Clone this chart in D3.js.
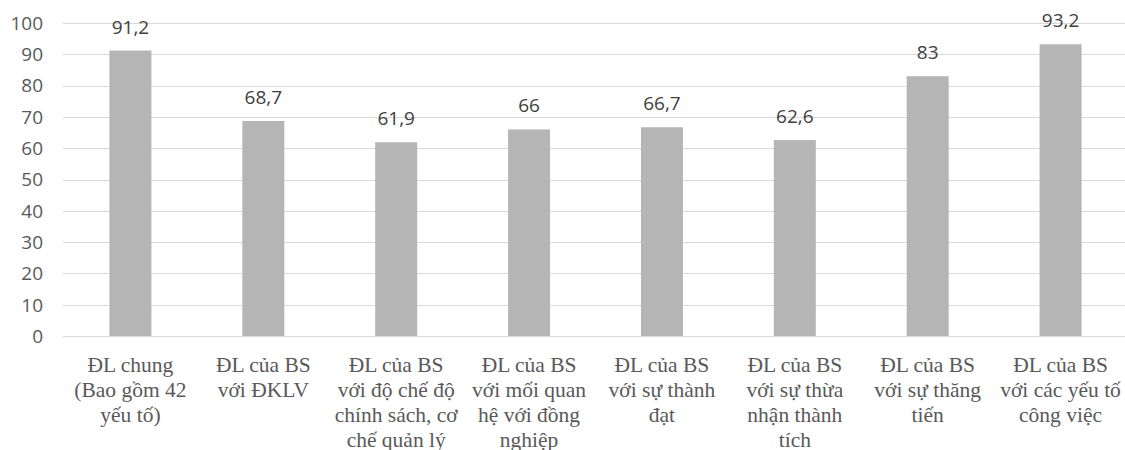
<!DOCTYPE html>
<html>
<head>
<meta charset="utf-8">
<script src="https://cdn.jsdelivr.net/npm/d3@7"></script>
<style>
  html, body { margin: 0; padding: 0; background: #fff; }
  svg { display: block; }
</style>
</head>
<body>
<svg id="chart" width="1125" height="450"></svg>
<script>
// Category labels, one array of lines per bar
const categories = [
  ["ĐL chung", "(Bao gồm 42", "yếu tố)"],
  ["ĐL của BS", "với ĐKLV"],
  ["ĐL của BS", "với độ chế độ", "chính sách, cơ", "chế quản lý"],
  ["ĐL của BS", "với mối quan", "hệ với đồng", "nghiệp"],
  ["ĐL của BS", "với sự thành", "đạt"],
  ["ĐL của BS", "với sự thừa", "nhận thành", "tích"],
  ["ĐL của BS", "với sự thăng", "tiến"],
  ["ĐL của BS", "với các yếu tố", "công việc"]
];
const values = [91.2, 68.7, 61.9, 66, 66.7, 62.6, 83, 93.2];
const valueLabels = ["91,2", "68,7", "61,9", "66", "66,7", "62,6", "83", "93,2"];
const yTicks = [0, 10, 20, 30, 40, 50, 60, 70, 80, 90, 100];

(function draw() {
  const svg = d3.select("#chart");
  const plotLeft = 64, plotRight = 1127, plotTop = 23, plotBottom = 336;
  const serif = "\"Liberation Serif\"";
  const sans = "\"Open Sans\"";

  const x = d3.scaleBand()
    .domain(d3.range(categories.length))
    .range([plotLeft, plotRight])
    .paddingInner(0.684)
    .paddingOuter(0.342);

  const y = d3.scaleLinear().domain([0, 100]).range([plotBottom, plotTop]);

  // Horizontal gridlines
  svg.append("g")
    .selectAll("line")
    .data(yTicks)
    .join("line")
    .attr("x1", plotLeft - 1)
    .attr("x2", plotRight)
    .attr("y1", d => Math.round(y(d)) + 0.5)
    .attr("y2", d => Math.round(y(d)) + 0.5)
    .attr("stroke", "#d9d9d9")
    .attr("stroke-width", 1);

  // Y axis tick labels
  svg.append("g")
    .selectAll("text")
    .data(yTicks)
    .join("text")
    .attr("x", 43)
    .attr("y", d => y(d))
    .attr("dy", "0.36em")
    .attr("text-anchor", "end")
    .style("font-family", sans)
    .style("font-size", "19px")
    .attr("fill", "#595959")
    .text(d => d);

  // Bars
  svg.append("g")
    .selectAll("rect")
    .data(values)
    .join("rect")
    .attr("x", (d, i) => x(i))
    .attr("width", x.bandwidth())
    .attr("y", d => y(d))
    .attr("height", d => y(0) - y(d))
    .attr("fill", "#b5b5b5");

  // Value labels above bars
  svg.append("g")
    .selectAll("text")
    .data(values)
    .join("text")
    .attr("x", (d, i) => x(i) + x.bandwidth() / 2)
    .attr("y", d => y(d) - 17)
    .attr("text-anchor", "middle")
    .style("font-family", sans)
    .style("font-size", "19px")
    .attr("fill", "#404040")
    .text((d, i) => valueLabels[i]);

  // Category labels below the axis, one text element per line
  const lines = categories.flatMap((lns, i) => lns.map((t, j) => ({ i, j, t })));
  svg.append("g")
    .selectAll("text")
    .data(lines)
    .join("text")
    .attr("x", d => x(d.i) + x.bandwidth() / 2)
    .attr("y", d => 372 + d.j * 25)
    .attr("text-anchor", "middle")
    .style("font-family", serif)
    .style("font-size", "21.5px")
    .attr("fill", "#595959")
    .text(d => d.t);
})();
</script>
</body>
</html>
